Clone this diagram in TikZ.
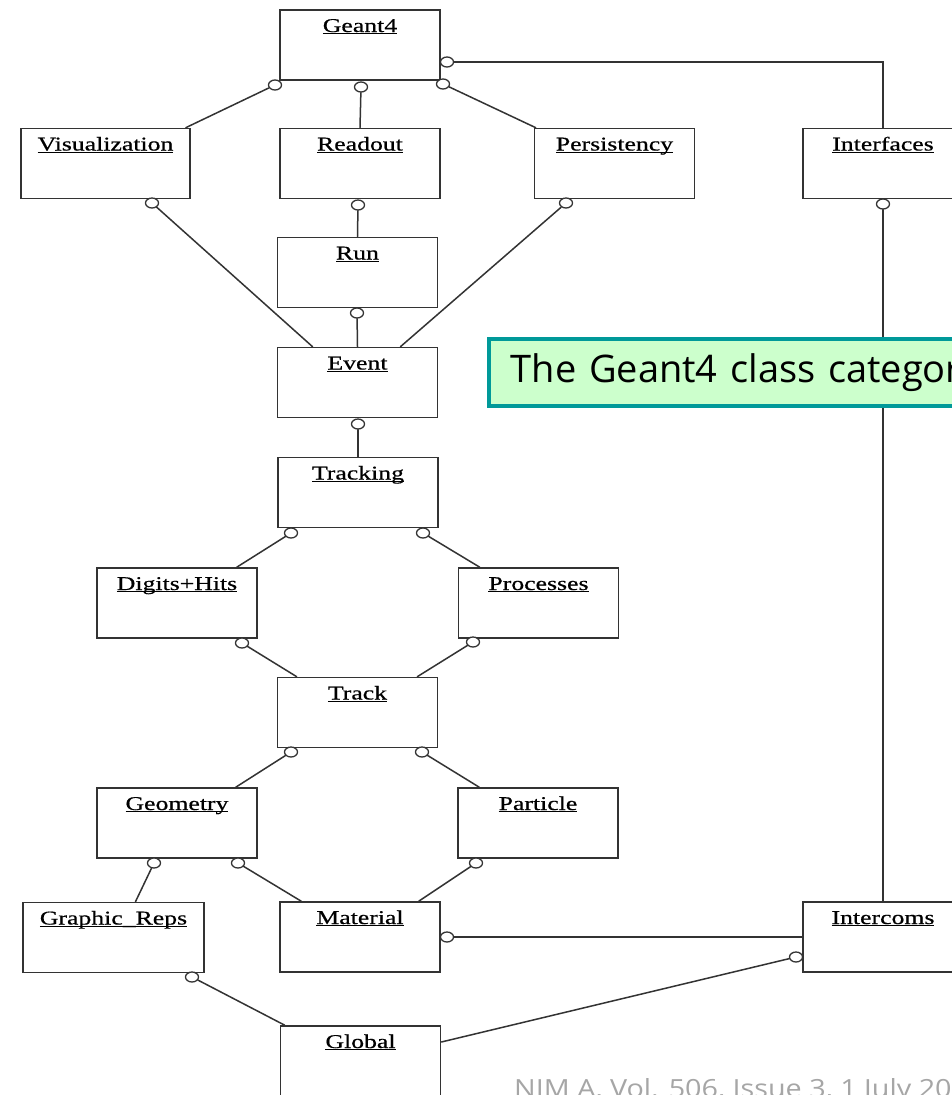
\documentclass[tikz,border=0pt]{standalone}
\usepackage{fontspec}
\usepackage{tikz}
\usetikzlibrary{shapes.geometric}
\newfontfamily\pkgfont[FakeStretch=1.32,FakeBold=0.6]{Liberation Serif}
\newfontfamily\notefont{Open Sans}
\newfontfamily\citefont[FakeStretch=1.15]{Open Sans}
\newcommand{\pkgname}[1]{\underline{\smash{#1}}}

\begin{document}
\begin{tikzpicture}
		[x=1pt,y=-1pt,line cap=round,
		%Styles
		package/.style={draw=boxline,line width=1.7pt,minimum width=160pt,minimum height=70pt,
			inner ysep=4pt,text height=18pt,text depth=44pt,font=\pkgfont\fontsize{19.5}{20}\selectfont},
		link/.style={draw=boxline,line width=1.5pt},
		ball/.style={ellipse,draw=boxline,fill=white,line width=1.3pt,minimum width=13pt,minimum height=10pt,inner sep=0pt},
		note box/.style={draw=capedge,fill=capfill,line width=3.5pt,anchor=north west,minimum height=67pt,
			text width=560pt,inner xsep=22pt,align=left,font=\notefont\fontsize{38}{42}\selectfont},
		cite text/.style={anchor=north west,inner sep=0pt,text=gray!70,font=\citefont\fontsize{25}{28}\selectfont}
		]
		
		%Colors
		\colorlet{boxline}{black!80}
		\definecolor{capfill}{RGB}{204,255,204}
		\definecolor{capedge}{RGB}{0,153,153}
		
		\path[use as bounding box,fill=white] (0,0) rectangle (952,1095);
		
		%The packages
		\node[package] (geant) at (360,45) {\pkgname{Geant4}};
		\node[package,minimum width=169pt] (visual) at (105.5,163.5) {\pkgname{Visualization}};
		\node[package] (readout) at (360,163.5) {\pkgname{Readout}};
		\node[package] (persist) at (614.5,163.5) {\pkgname{Persistency}};
		\node[package] (interf) at (883,163.5) {\pkgname{Interfaces}};
		\node[package] (run) at (357.5,272.5) {\pkgname{Run}};
		\node[package] (event) at (357.5,382.5) {\pkgname{Event}};
		\node[package] (tracking) at (358,492.5) {\pkgname{Tracking}};
		\node[package] (digits) at (177,603) {\pkgname{Digits+Hits}};
		\node[package] (procs) at (538.5,603) {\pkgname{Processes}};
		\node[package] (track) at (357.5,712.5) {\pkgname{Track}};
		\node[package] (geom) at (177,823) {\pkgname{Geometry}};
		\node[package] (particle) at (538,823) {\pkgname{Particle}};
		\node[package,minimum width=181pt] (graphic) at (113.5,937.5) {\pkgname{Graphic\_Reps}};
		\node[package] (material) at (360,937) {\pkgname{Material}};
		\node[package] (intercoms) at (883,937) {\pkgname{Intercoms}};
		\node[package] (global) at (360.5,1061) {\pkgname{Global}};
		
		%Dependency ends
		\node[ball] (gv) at (275,85) {};
		\node[ball] (gr) at (361,87) {};
		\node[ball] (gp) at (443,84) {};
		\node[ball] (gi) at (447,62) {};
		\node[ball] (ve) at (152,203) {};
		\node[ball] (rr) at (358,205) {};
		\node[ball] (pe) at (566,203) {};
		\node[ball] (ii) at (883,204) {};
		\node[ball] (re) at (357,313) {};
		\node[ball] (et) at (358,424) {};
		\node[ball] (td) at (291,533) {};
		\node[ball] (tp) at (423,533) {};
		\node[ball] (dt) at (242,643) {};
		\node[ball] (pt) at (473,642) {};
		\node[ball] (kg) at (291,752) {};
		\node[ball] (kp) at (422,752) {};
		\node[ball] (gg) at (154,863) {};
		\node[ball] (gm) at (238,863) {};
		\node[ball] (pm) at (476,863) {};
		\node[ball] (mi) at (447,937) {};
		\node[ball] (rg) at (192,977) {};
		\node[ball] (ig) at (796,957) {};
		
		%Dependencies
		\draw[link] (gv) -- ([xshift=-5pt]visual.north east);
		\draw[link] (gr) -- (readout.north);
		\draw[link] (gp) -- ([xshift=2pt]persist.north west);
		\draw[link] (gi) -- (gi -| interf.north) -- (interf.north);
		\draw[link] (ve) -- ([xshift=-45pt]event.north);
		\draw[link] (rr) -- (run.north);
		\draw[link] (pe) -- ([xshift=43pt]event.north);
		\draw[link] (ii) -- (intercoms.north);
		\draw[link] (re) -- (event.north);
		\draw[link] (et) -- (tracking.north);
		\draw[link] (td) -- ([xshift=-21pt]digits.north east);
		\draw[link] (tp) -- ([xshift=22pt]procs.north west);
		\draw[link] (dt) -- ([xshift=20pt]track.north west);
		\draw[link] (pt) -- ([xshift=-21pt]track.north east);
		\draw[link] (kg) -- ([xshift=-22pt]geom.north east);
		\draw[link] (kp) -- ([xshift=22pt]particle.north west);
		\draw[link] (gg) -- ([xshift=22pt]graphic.north);
		\draw[link] (gm) -- ([xshift=22pt]material.north west);
		\draw[link] (pm) -- ([xshift=-22pt]material.north east);
		\draw[link] (mi) -- (mi -| intercoms.west);
		\draw[link] (rg) -- ([xshift=5pt]global.north west);
		\draw[link] (ig) -- ([yshift=19pt]global.east);
		
		%Texts
		\node[note box] (note) at (487,337) {The Geant4 class categor};
		\node[cite text] (cite) at (514,1078) {NIM A, Vol. 506, Issue 3, 1 July 20};
	\end{tikzpicture}
\end{document}
